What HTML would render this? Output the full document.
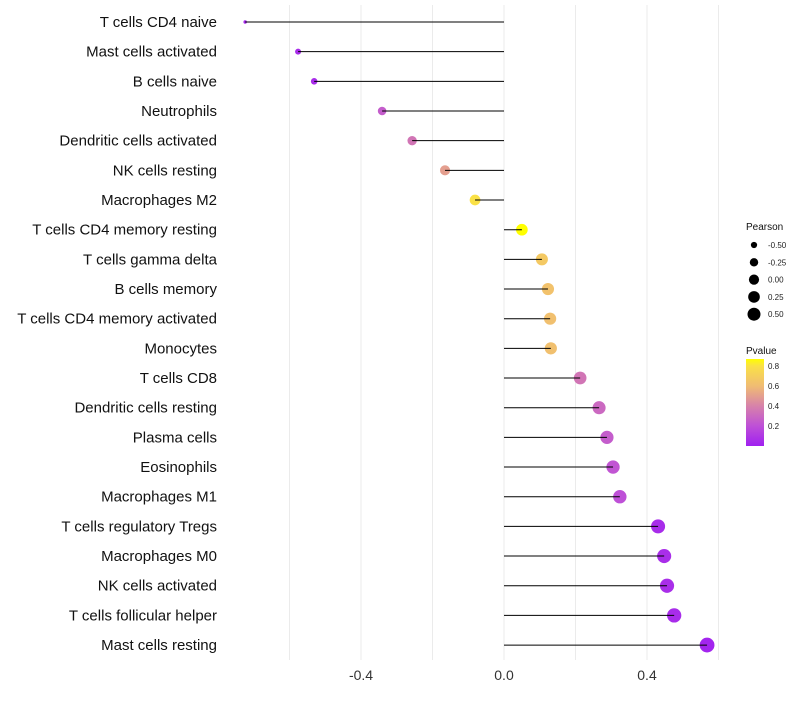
<!DOCTYPE html>
<html><head><meta charset="utf-8"><style>
body{margin:0;background:#fff;font-family:"Liberation Sans",sans-serif}
</style></head><body>
<svg id="chart" width="800" height="700" xmlns="http://www.w3.org/2000/svg">
<g id="grid"></g><g id="marks"></g><g id="stems"></g><g id="labels"></g><g id="legend"></g>
</svg>
<script>
const categories=["T cells CD4 naive","Mast cells activated","B cells naive","Neutrophils","Dendritic cells activated","NK cells resting","Macrophages M2","T cells CD4 memory resting","T cells gamma delta","B cells memory","T cells CD4 memory activated","Monocytes","T cells CD8","Dendritic cells resting","Plasma cells","Eosinophils","Macrophages M1","T cells regulatory  Tregs ","Macrophages M0","NK cells activated","T cells follicular helper","Mast cells resting"];
const pearson=[-0.724,-0.576,-0.531,-0.341,-0.257,-0.165,-0.081,0.050,0.106,0.123,0.129,0.131,0.213,0.266,0.288,0.305,0.324,0.431,0.448,0.456,0.476,0.568];
const pvalue=[0.03,0.05,0.05,0.25,0.35,0.5,0.8,0.87,0.67,0.63,0.62,0.62,0.35,0.3,0.25,0.22,0.2,0.05,0.06,0.06,0.05,0.02];
const xTicks=[-0.4,0.0,0.4];
const gridTicks=[-0.6,-0.4,-0.2,0,0.2,0.4,0.6];
const sizeTicks=[-0.5,-0.25,0,0.25,0.5];
const pTicks=[0.2,0.4,0.6,0.8];
const NS="http://www.w3.org/2000/svg";
const x=v=>504+v*357.5;
const y=i=>22+i*29.67;
const r=v=>Math.sqrt(Math.max(2,32+40*v));
const stops=[[0,[160,32,240]],[0.2,[190,80,215]],[0.4,[215,130,170]],[0.6,[240,188,115]],[0.8,[250,225,70]],[0.87,[255,255,0]]];
function col(p){for(let k=1;k<stops.length;k++){if(p<=stops[k][0]){const a=stops[k-1],b=stops[k],t=(p-a[0])/(b[0]-a[0]);return `rgb(${a[1].map((c,j)=>Math.round(c+(b[1][j]-c)*t)).join(',')})`;}}return 'rgb(255,255,0)';}
function mk(t,at,parent){const e=document.createElementNS(NS,t);for(const k in at)e.setAttribute(k,at[k]);document.getElementById(parent).appendChild(e);return e;}
gridTicks.forEach(v=>{const g=mk('line',{x1:x(v),x2:x(v),y1:5,y2:660,stroke:'#ebebeb','stroke-width':1},'grid');

});
xTicks.forEach(t=>{const e=mk('text',{x:x(t),y:680,'text-anchor':'middle','font-size':14,fill:'#333'},'labels');e.textContent=t.toFixed(1);

});
categories.forEach((c,i)=>{
const d=mk('circle',{cx:x(pearson[i]),cy:y(i),r:r(pearson[i]),fill:col(pvalue[i])},'marks');


const ln=mk('line',{x1:x(0),x2:x(pearson[i]),y1:y(i),y2:y(i),stroke:'#000','stroke-width':1},'stems');


const t=mk('text',{x:217,y:y(i)+5,'text-anchor':'end','font-size':15,fill:'#111'},'labels');t.textContent=c;

});
let e=mk('text',{x:746,y:230,'font-size':10,fill:'#111'},'legend');e.textContent='Pearson';


sizeTicks.forEach((s,k)=>{const cy=245+k*17.3;
const c=mk('circle',{cx:754,cy:cy,r:r(s)*0.9,fill:'#000'},'legend');


const t=mk('text',{x:768,y:cy+3,'font-size':8,fill:'#222'},'legend');t.textContent=s.toFixed(2);

});
e=mk('text',{x:746,y:354,'font-size':10,fill:'#111'},'legend');e.textContent='Pvalue';


const defs=mk('defs',{},'legend');
const lg=document.createElementNS(NS,'linearGradient');lg.setAttribute('id','pg');lg.setAttribute('x1','0');lg.setAttribute('y1','1');lg.setAttribute('x2','0');lg.setAttribute('y2','0');defs.appendChild(lg);
stops.forEach(s=>{const st=document.createElementNS(NS,'stop');st.setAttribute('offset',s[0]/0.87);st.setAttribute('stop-color',`rgb(${s[1].join(',')})`);lg.appendChild(st);});
const py=p=>446-p*100;
const bar=mk('rect',{x:746,y:py(0.87),width:18,height:87,fill:'url(#pg)'},'legend');


pTicks.forEach(p=>{const t=mk('text',{x:768,y:py(p)+3,'font-size':8,fill:'#222'},'legend');t.textContent=p.toFixed(1);

});
</script>
</body></html>
